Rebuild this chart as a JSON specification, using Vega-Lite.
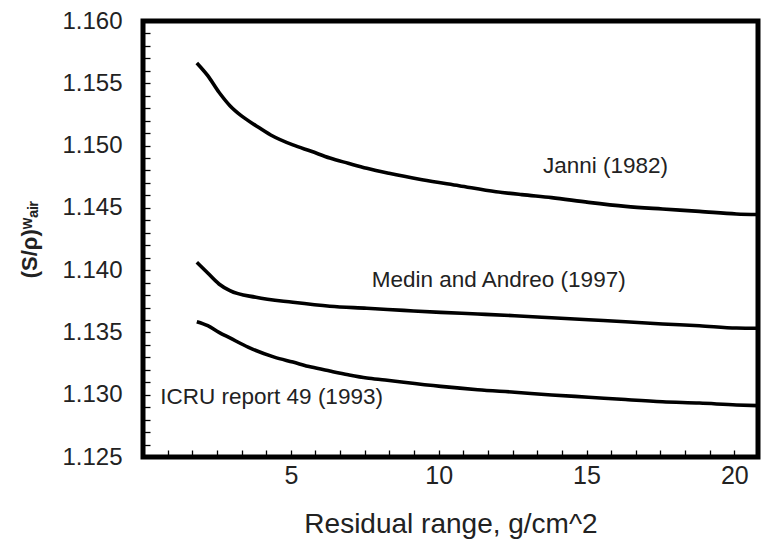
{
  "$schema": "https://vega.github.io/schema/vega-lite/v6.json",
  "autosize": "none",
  "width": 615,
  "height": 436,
  "padding": {"left": 143, "top": 21, "right": 3, "bottom": 98},
  "background": "white",
  "config": {
    "view": {"stroke": "black", "strokeWidth": 5},
    "font": "Liberation Sans, Arial, DejaVu Sans, sans-serif"
  },
  "datasets": {
    "curves": [
      {"series": "Janni", "x": 1.82, "y": 1.15663},
      {"series": "Janni", "x": 2.19, "y": 1.15561},
      {"series": "Janni", "x": 2.57, "y": 1.15428},
      {"series": "Janni", "x": 2.94, "y": 1.1532},
      {"series": "Janni", "x": 3.32, "y": 1.1524},
      {"series": "Janni", "x": 3.82, "y": 1.1516},
      {"series": "Janni", "x": 4.32, "y": 1.15085},
      {"series": "Janni", "x": 5.07, "y": 1.15005},
      {"series": "Janni", "x": 5.69, "y": 1.14954},
      {"series": "Janni", "x": 6.32, "y": 1.149},
      {"series": "Janni", "x": 6.94, "y": 1.14858},
      {"series": "Janni", "x": 7.57, "y": 1.14817},
      {"series": "Janni", "x": 8.32, "y": 1.14777},
      {"series": "Janni", "x": 9.44, "y": 1.14726},
      {"series": "Janni", "x": 10.69, "y": 1.14678},
      {"series": "Janni", "x": 11.94, "y": 1.1463},
      {"series": "Janni", "x": 12.81, "y": 1.14606},
      {"series": "Janni", "x": 13.82, "y": 1.14582},
      {"series": "Janni", "x": 15.07, "y": 1.14544},
      {"series": "Janni", "x": 16.32, "y": 1.14512},
      {"series": "Janni", "x": 17.57, "y": 1.14491},
      {"series": "Janni", "x": 18.82, "y": 1.14472},
      {"series": "Janni", "x": 20.07, "y": 1.14451},
      {"series": "Janni", "x": 20.82, "y": 1.14446},
      {"series": "Medin", "x": 1.82, "y": 1.14063},
      {"series": "Medin", "x": 2.19, "y": 1.13977},
      {"series": "Medin", "x": 2.57, "y": 1.13889},
      {"series": "Medin", "x": 2.94, "y": 1.13835},
      {"series": "Medin", "x": 3.82, "y": 1.13782},
      {"series": "Medin", "x": 5.07, "y": 1.13742},
      {"series": "Medin", "x": 6.32, "y": 1.1371},
      {"series": "Medin", "x": 7.57, "y": 1.13694},
      {"series": "Medin", "x": 8.82, "y": 1.13677},
      {"series": "Medin", "x": 10.07, "y": 1.13661},
      {"series": "Medin", "x": 11.32, "y": 1.13648},
      {"series": "Medin", "x": 12.57, "y": 1.13634},
      {"series": "Medin", "x": 13.82, "y": 1.13618},
      {"series": "Medin", "x": 15.07, "y": 1.13602},
      {"series": "Medin", "x": 16.32, "y": 1.13586},
      {"series": "Medin", "x": 17.57, "y": 1.13568},
      {"series": "Medin", "x": 18.82, "y": 1.13554},
      {"series": "Medin", "x": 20.07, "y": 1.13535},
      {"series": "Medin", "x": 20.82, "y": 1.13533},
      {"series": "ICRU", "x": 1.82, "y": 1.13586},
      {"series": "ICRU", "x": 2.19, "y": 1.13554},
      {"series": "ICRU", "x": 2.57, "y": 1.13501},
      {"series": "ICRU", "x": 2.94, "y": 1.13456},
      {"series": "ICRU", "x": 3.57, "y": 1.1338},
      {"series": "ICRU", "x": 4.44, "y": 1.13302},
      {"series": "ICRU", "x": 5.07, "y": 1.13262},
      {"series": "ICRU", "x": 5.69, "y": 1.13222},
      {"series": "ICRU", "x": 6.32, "y": 1.1319},
      {"series": "ICRU", "x": 6.94, "y": 1.1316},
      {"series": "ICRU", "x": 7.57, "y": 1.13134},
      {"series": "ICRU", "x": 8.19, "y": 1.13118},
      {"series": "ICRU", "x": 8.82, "y": 1.131},
      {"series": "ICRU", "x": 10.07, "y": 1.13067},
      {"series": "ICRU", "x": 11.32, "y": 1.1304},
      {"series": "ICRU", "x": 12.57, "y": 1.1302},
      {"series": "ICRU", "x": 13.82, "y": 1.12998},
      {"series": "ICRU", "x": 15.07, "y": 1.1298},
      {"series": "ICRU", "x": 16.32, "y": 1.12961},
      {"series": "ICRU", "x": 17.57, "y": 1.12944},
      {"series": "ICRU", "x": 18.82, "y": 1.12933},
      {"series": "ICRU", "x": 20.07, "y": 1.12918},
      {"series": "ICRU", "x": 20.82, "y": 1.12912}
    ],
    "labels": [
      {"x": 15.64, "y": 1.14836, "text": "Janni (1982)"},
      {"x": 12.03, "y": 1.13921, "text": "Medin and Andreo (1997)"},
      {"x": 4.35, "y": 1.12981, "text": "ICRU report 49 (1993)"}
    ]
  },
  "layer": [
    {
      "data": {"name": "curves"},
      "mark": {"type": "line", "stroke": "black", "strokeWidth": 3.6, "interpolate": "monotone", "clip": true},
      "encoding": {
        "x": {
          "field": "x", "type": "quantitative",
          "scale": {"domain": [0, 20.8], "nice": false, "zero": false},
          "axis": {
            "title": "Residual range, g/cm^2",
            "titleFontSize": 28, "titleFontWeight": "normal", "titleColor": "#222",
            "titlePadding": 22,
            "tickCount": 200,
            "values": [0.8333, 1.6667, 2.5, 3.3333, 4.1667, 5, 5.8333, 6.6667, 7.5, 8.3333, 9.1667, 10, 10.8333, 11.6667, 12.5, 13.3333, 14.1667, 15, 15.8333, 16.6667, 17.5, 18.3333, 19.1667, 20],
            "labelExpr": "abs(datum.value - round(datum.value/5)*5) < 0.01 ? format(datum.value, 'd') : ''",
            "labelFontSize": 25, "labelColor": "#222", "labelPadding": 13, "labelDx": 5,
            "domain": false, "grid": false,
            "tickSize": -7, "tickWidth": 1.3, "tickColor": "black",
            "labelFlush": false, "labelOverlap": false
          }
        },
        "y": {
          "field": "y", "type": "quantitative",
          "scale": {"domain": [1.125, 1.16], "nice": false, "zero": false},
          "axis": {
            "title": "(S/ρ)ʷₐᵢᵣ",
            "titleFontSize": 22, "titleFontWeight": "bold", "titleColor": "#222",
            "titlePadding": 20,
            "tickCount": 200,
            "values": [1.125, 1.126, 1.127, 1.128, 1.129, 1.13, 1.131, 1.132, 1.133, 1.134, 1.135, 1.136, 1.137, 1.138, 1.139, 1.14, 1.141, 1.142, 1.143, 1.144, 1.145, 1.146, 1.147, 1.148, 1.149, 1.15, 1.151, 1.152, 1.153, 1.154, 1.155, 1.156, 1.157, 1.158, 1.159, 1.16],
            "labelExpr": "abs(datum.value*1000 - round(datum.value*200)*5) < 0.01 ? format(datum.value, '.3f') : ''",
            "labelFontSize": 24, "labelColor": "#222", "labelPadding": 28,
            "domain": false, "grid": false,
            "tickSize": -7, "tickWidth": 1.3, "tickColor": "black",
            "labelFlush": false, "labelOverlap": false
          }
        },
        "detail": {"field": "series"}
      }
    },
    {
      "data": {"name": "labels"},
      "mark": {"type": "text", "fontSize": 22.5, "color": "#222", "align": "center", "baseline": "middle"},
      "encoding": {
        "x": {"field": "x", "type": "quantitative"},
        "y": {"field": "y", "type": "quantitative"},
        "text": {"field": "text"}
      }
    }
  ]
}
